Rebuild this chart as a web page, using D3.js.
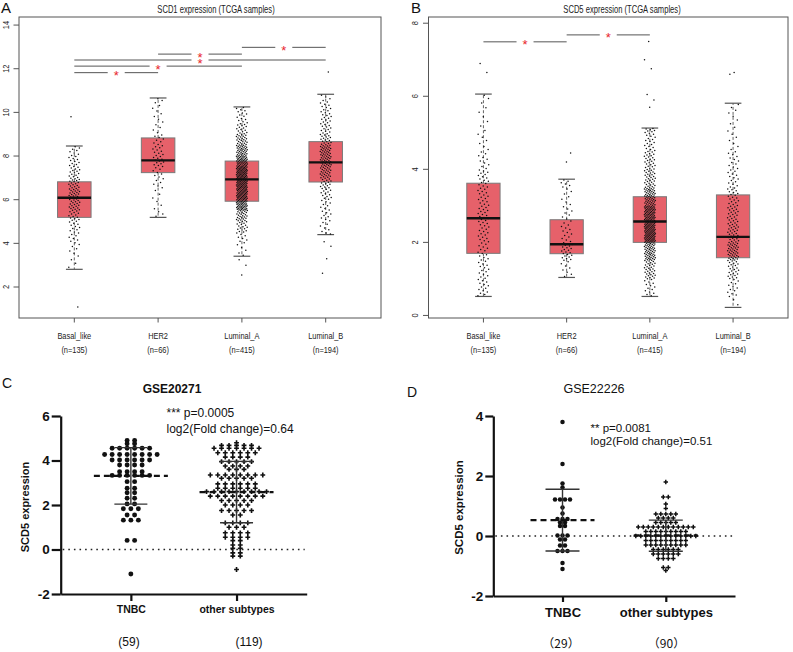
<!DOCTYPE html>
<html>
<head>
<meta charset="utf-8">
<script src="https://cdn.jsdelivr.net/npm/d3@7/dist/d3.min.js"></script>
<style>
  body { margin: 0; background: #fff; }
  svg { display: block; font-family: "Liberation Sans", Arial, sans-serif; }
</style>
</head>
<body>
<div id="chart"></div>
<script>
var width = 793;
var height = 652;

// ---- TCGA panels (A, B) ----
var subtypes = ["Basal_like", "HER2", "Luminal_A", "Luminal_B"];
var subtypeN = ["(n=135)", "(n=66)", "(n=415)", "(n=194)"];

// boxes: [low whisker, Q1, median, Q3, high whisker]
var scd1Box = [[2.81, 5.19, 6.09, 6.82, 8.46], [5.19, 7.24, 7.80, 8.83, 10.66],
               [3.41, 5.93, 6.93, 7.77, 10.25], [4.40, 6.81, 7.71, 8.66, 10.83]];
var scd1Outliers = [[9.8, 1.08], [], [3.25, 3.0, 2.55], [11.85, 4.07, 3.87, 3.3, 2.63]];
// samples inside the whiskers, counted in 0.5-wide bins
var scd1BinStart = [2.5, 5.0, 3.0, 4.0];
var scd1BinCounts = [
  [1, 3, 5, 8, 10, 14, 19, 22, 18, 14, 11, 8],
  [3, 3, 3, 6, 7, 12, 10, 8, 4, 4, 4, 2],
  [1, 4, 8, 16, 25, 48, 55, 58, 60, 47, 35, 25, 15, 10, 5],
  [2, 6, 8, 8, 12, 16, 24, 28, 28, 18, 13, 12, 10, 4]
];
// significance brackets: [group a, group b, height]
var scd1Sig = [[1, 2, 11.82], [1, 3, 12.12], [1, 4, 12.40], [2, 3, 12.67], [3, 4, 12.98]];

var scd5Box = [[0.52, 1.70, 2.66, 3.62, 6.06], [1.04, 1.69, 1.95, 2.62, 3.73],
               [0.52, 2.00, 2.57, 3.25, 5.13], [0.22, 1.58, 2.15, 3.30, 5.81]];
var scd5Outliers = [[6.9, 6.65], [4.45, 4.2], [7.5, 7.0, 6.75, 6.05, 5.9, 5.7], [6.65, 6.6]];
var scd5BinStart = [0.5, 1.0, 0.5, 0.0];
var scd5BinCounts = [
  [14, 14, 14, 16, 18, 16, 16, 10, 6, 4, 4, 1],
  [8, 22, 12, 9, 7, 6],
  [14, 32, 55, 90, 80, 55, 32, 26, 18, 7],
  [2, 13, 24, 40, 28, 24, 20, 14, 12, 6, 5, 4]
];
var scd5Sig = [[1, 2, 7.49], [2, 3, 7.68]];

// ---- GEO panels (C, D): rows of [value, number of samples] ----
var geoGroups = ["TNBC", "other subtypes"];

var gse20271Tnbc = [[4.9, 2], [4.75, 2], [4.55, 6], [4.27, 8], [4.02, 6], [3.8, 4], [3.5, 4],
  [3.33, 6], [3.05, 2], [2.75, 2], [2.55, 2], [2.3, 2], [2.05, 2], [1.83, 3], [1.55, 2],
  [1.32, 3], [0.41, 2], [-1.1, 1]];
var gse20271Other = [[4.8, 1], [4.68, 5], [4.55, 7], [4.35, 6], [4.15, 4], [3.95, 5], [3.75, 4],
  [3.6, 3], [3.35, 8], [3.2, 5], [2.95, 6], [2.75, 6], [2.6, 9], [2.4, 8], [2.2, 5], [2.0, 4],
  [1.75, 5], [1.55, 2], [1.2, 4], [1.0, 3], [0.75, 4], [0.55, 4], [0.4, 2], [0.2, 2],
  [0.05, 2], [-0.15, 2], [-0.3, 2], [-0.9, 1]];
var gse20271Mean = [3.31, 2.58];
var gse20271SdHigh = [4.58, 3.96];
var gse20271SdLow = [2.04, 1.20];
var gse20271Counts = ["(59)", "(119)"];

var gse22226Tnbc = [[3.8, 1], [2.4, 1], [1.75, 1], [1.62, 1], [1.22, 4], [0.95, 1], [0.75, 1],
  [0.57, 3], [0.45, 2], [0.33, 2], [0.02, 3], [-0.12, 2], [-0.32, 2], [-0.5, 3], [-0.9, 1], [-1.1, 1]];
var gse22226Other = [[1.8, 1], [1.3, 2], [1.07, 1], [0.92, 1], [0.73, 5], [0.6, 4], [0.45, 5],
  [0.3, 12], [0.15, 9], [0.0, 13], [-0.15, 9], [-0.3, 9], [-0.45, 6], [-0.6, 6], [-0.75, 4],
  [-1.05, 2], [-1.15, 1]];
var gse22226Mean = [0.53, 0.02];
var gse22226SdHigh = [1.56, 0.53];
var gse22226SdLow = [-0.50, -0.51];
var gse22226Counts = ["（29）", "（90）"];

function createSVG() {
  return d3.select("#chart").append("svg")
    .attr("width", width)
    .attr("height", height);
}

// condensed text, the TCGA plots use a narrow face
function narrowText(g, x, y, str, size, sx, rotate) {
  var t = g.append("g")
    .attr("transform", "translate(" + x + "," + y + ")" + (rotate ? " rotate(-90)" : "") + " scale(" + sx + ",1)");
  return t.append("text")
    .attr("text-anchor", "middle")
    .style("font-size", size + "px")
    .attr("fill", "#222")
    .text(str);
}

function frac(v) { return v - Math.floor(v); }

function binValues(start, counts, lo, hi) {
  var vals = [];
  counts.forEach(function(c, j) {
    var a = Math.max(start + j * 0.5, lo);
    var b = Math.min(start + (j + 1) * 0.5, hi);
    for (var k = 0; k < c; k++) vals.push(a + (k + 0.5) / c * (b - a));
  });
  return vals;
}

function drawBoxPanel(svg, p) {
  var g = svg.append("g");
  var x = d3.scaleLinear().domain([0.34, 4.66]).range([p.left, p.right]);
  var y = d3.scaleLinear().domain(p.yDomain).range([p.bottom, p.top]);

  g.append("rect")
    .attr("x", p.left).attr("y", p.top)
    .attr("width", p.right - p.left).attr("height", p.bottom - p.top)
    .attr("fill", "none").attr("stroke", "#555").attr("stroke-width", 1);

  // y ticks
  p.yTicks.forEach(function(v) {
    g.append("line")
      .attr("x1", p.left - 5.5).attr("x2", p.left)
      .attr("y1", y(v)).attr("y2", y(v))
      .attr("stroke", "#555");
    narrowText(g, p.left - 10.5, y(v), v, 9.3, 0.8, true);
  });

  // x ticks and labels
  subtypes.forEach(function(s, i) {
    g.append("line")
      .attr("x1", x(i + 1)).attr("x2", x(i + 1))
      .attr("y1", p.bottom).attr("y2", p.bottom + 4.5)
      .attr("stroke", "#555");
    narrowText(g, x(i + 1), p.bottom + 21, s, 9.3, 0.8, false);
    narrowText(g, x(i + 1), p.bottom + 35, subtypeN[i], 9.3, 0.8, false);
  });

  // boxes
  p.boxes.forEach(function(b, i) {
    var cx = x(i + 1);
    var hw = x(1.2) - x(1);
    var cw = x(1.1) - x(1);
    g.append("line").attr("x1", cx).attr("x2", cx).attr("y1", y(b[3])).attr("y2", y(b[4]))
      .attr("stroke", "#666").attr("stroke-dasharray", "3,2");
    g.append("line").attr("x1", cx).attr("x2", cx).attr("y1", y(b[1])).attr("y2", y(b[0]))
      .attr("stroke", "#666").attr("stroke-dasharray", "3,2");
    [b[0], b[4]].forEach(function(v) {
      g.append("line").attr("x1", cx - cw).attr("x2", cx + cw).attr("y1", y(v)).attr("y2", y(v))
        .attr("stroke", "#555").attr("stroke-width", 1.2);
    });
    g.append("rect")
      .attr("x", cx - hw).attr("y", y(b[3]))
      .attr("width", 2 * hw).attr("height", y(b[1]) - y(b[3]))
      .attr("fill", "#e6616a").attr("stroke", "#7a7a7a").attr("stroke-width", 1);
    g.append("line").attr("x1", cx - hw).attr("x2", cx + hw).attr("y1", y(b[2])).attr("y2", y(b[2]))
      .attr("stroke", "#111").attr("stroke-width", 2.4);
  });

  // jittered samples
  p.boxes.forEach(function(b, i) {
    var vals = binValues(p.binStart[i], p.binCounts[i], b[0], b[4]).concat(p.outliers[i]);
    g.append("g").selectAll("circle")
      .data(vals)
      .enter()
      .append("circle")
      .attr("cx", function(d, k) { return x(i + 1) + (frac(k * 0.618034 + i * 0.31) - 0.5) * 11; })
      .attr("cy", function(d) { return y(d); })
      .attr("r", 0.75)
      .attr("fill", "#111");
  });

  // significance brackets
  p.sig.forEach(function(s) {
    var mid = (x(s[0]) + x(s[1])) / 2;
    g.append("line").attr("x1", x(s[0])).attr("x2", mid - 8.5).attr("y1", y(s[2])).attr("y2", y(s[2]))
      .attr("stroke", "#555");
    g.append("line").attr("x1", mid + 8.5).attr("x2", x(s[1])).attr("y1", y(s[2])).attr("y2", y(s[2]))
      .attr("stroke", "#555");
    g.append("text").attr("x", mid).attr("y", y(s[2]) + 7.5)
      .attr("text-anchor", "middle").style("font-size", "13px").attr("fill", "#e8242b")
      .text("*");
  });

  narrowText(g, p.titleX, 12.5, p.title, 10, 0.76, false);
  g.append("text").attr("x", p.letterX).attr("y", 13)
    .style("font-size", "15px").attr("fill", "#111").text(p.letter);
}

function dotRows(levels, cx, step) {
  var pts = [];
  levels.forEach(function(l) {
    for (var k = 0; k < l[1]; k++) pts.push({ v: l[0], x: cx + (k - (l[1] - 1) / 2) * step });
  });
  return pts;
}

function drawDotPanel(svg, p) {
  var g = svg.append("g");
  var y = d3.scaleLinear().domain(p.yDomain).range([p.bottom, p.top]);
  var x = d3.scalePoint().domain(geoGroups).range([p.left, p.right]).padding(p.pad);

  // zero reference
  g.append("line")
    .attr("x1", p.left + 2).attr("x2", p.right - 2)
    .attr("y1", y(0)).attr("y2", y(0))
    .attr("stroke", "#222").attr("stroke-width", 1.6).attr("stroke-dasharray", "1.6,4");

  var yAxis = g.append("g")
    .attr("transform", "translate(" + p.left + ",0)")
    .call(d3.axisLeft(y).tickValues(p.yTicks).tickSize(p.tick).tickSizeOuter(0).tickPadding(2)
      .tickFormat(d3.format("d")));
  var xAxis = g.append("g")
    .attr("transform", "translate(0," + p.bottom + ")")
    .call(d3.axisBottom(x).tickSize(p.tick - 2).tickSizeOuter(0).tickPadding(p.xPad));
  [yAxis, xAxis].forEach(function(a) {
    a.select(".domain").attr("stroke", "#111").attr("stroke-width", 2.2);
    a.selectAll(".tick line").attr("stroke", "#111").attr("stroke-width", 2.2);
    a.selectAll("text").attr("fill", "#111").style("font-family", "'Liberation Sans', Arial, sans-serif")
      .style("font-weight", "bold");
  });
  yAxis.selectAll("text").style("font-size", p.yTickFont + "px").text(function(d) { return d < 0 ? "-" + (-d) : d; });
  xAxis.selectAll("text").style("font-size", p.xFont + "px");

  // points
  var shapes = [d3.symbol().type(d3.symbolCircle).size(p.circleSize),
                d3.symbol().type(d3.symbolCross).size(p.crossSize)];
  [p.tnbc, p.other].forEach(function(levels, i) {
    g.append("g").selectAll("path")
      .data(dotRows(levels, x(geoGroups[i]), p.step))
      .enter()
      .append("path")
      .attr("d", shapes[i])
      .attr("transform", function(d) { return "translate(" + d.x + "," + y(d.v) + ")"; })
      .attr("fill", "#111");
  });

  // mean (dashed) and SD bars
  geoGroups.forEach(function(grp, i) {
    var cx = x(grp);
    g.append("line").attr("x1", cx).attr("x2", cx).attr("y1", y(p.sdLow[i])).attr("y2", y(p.sdHigh[i]))
      .attr("stroke", "#333").attr("stroke-width", 1.4);
    [p.sdLow[i], p.sdHigh[i]].forEach(function(v) {
      g.append("line").attr("x1", cx - p.cap).attr("x2", cx + p.cap).attr("y1", y(v)).attr("y2", y(v))
        .attr("stroke", "#333").attr("stroke-width", 1.4);
    });
    g.append("line").attr("x1", cx - p.meanHalf).attr("x2", cx + p.meanHalf)
      .attr("y1", y(p.mean[i])).attr("y2", y(p.mean[i]))
      .attr("stroke", "#111").attr("stroke-width", 2.2).attr("stroke-dasharray", "6,4");
    g.append("text").attr("x", p.countX[i]).attr("y", p.countY)
      .attr("text-anchor", "middle").style("font-size", "12px").attr("fill", "#111")
      .style("font-family", p.countFont)
      .text(p.counts[i]);
  });

  g.append("text")
    .attr("transform", "translate(" + p.yLabelX + "," + p.yLabelY + ") rotate(-90)")
    .attr("text-anchor", "middle").style("font-size", p.yLabelFont + "px").style("font-weight", "bold")
    .attr("fill", "#111").text("SCD5 expression");

  g.append("text").attr("x", p.titleX).attr("y", 393).attr("text-anchor", "middle")
    .style("font-size", p.titleFont + "px").style("font-weight", p.titleWeight).attr("fill", "#111")
    .text(p.title);
  g.append("text").attr("x", p.letterX).attr("y", p.letterY)
    .style("font-size", "14px").attr("fill", "#111").text(p.letter);

  p.note.forEach(function(line, k) {
    g.append("text").attr("x", p.noteX).attr("y", p.noteY[k])
      .style("font-size", p.noteFont + "px").attr("fill", "#111").text(line);
  });
}

function main() {
  var svg = createSVG();

  drawBoxPanel(svg, {
    left: 19, right: 381, top: 17, bottom: 318,
    yDomain: [0.58, 14.37], yTicks: [2, 4, 6, 8, 10, 12, 14],
    boxes: scd1Box, outliers: scd1Outliers, binStart: scd1BinStart, binCounts: scd1BinCounts,
    sig: scd1Sig, title: "SCD1 expression (TCGA samples)", titleX: 216, letter: "A", letterX: 1
  });
  drawBoxPanel(svg, {
    left: 428.5, right: 788, top: 17, bottom: 318,
    yDomain: [-0.07, 8.17], yTicks: [0, 2, 4, 6, 8],
    boxes: scd5Box, outliers: scd5Outliers, binStart: scd5BinStart, binCounts: scd5BinCounts,
    sig: scd5Sig, title: "SCD5 expression (TCGA samples)", titleX: 622, letter: "B", letterX: 411
  });

  drawDotPanel(svg, {
    left: 60.7, right: 306.7, top: 416, bottom: 594, pad: 0.664,
    yDomain: [-2, 6], yTicks: [-2, 0, 2, 4, 6], tick: 9, xPad: 5, yTickFont: 13.5, xFont: 10.5,
    tnbc: gse20271Tnbc, other: gse20271Other, step: 7.5, circleSize: 19, crossSize: 13,
    mean: gse20271Mean, sdHigh: gse20271SdHigh, sdLow: gse20271SdLow, cap: 16.5, meanHalf: 37,
    counts: gse20271Counts, countX: [129, 249], countY: 645.5, countFont: "'Liberation Sans', Arial, sans-serif",
    yLabelX: 29, yLabelY: 507, yLabelFont: 11,
    title: "GSE20271", titleX: 172, titleFont: 12, titleWeight: "bold", letter: "C", letterX: 2, letterY: 388,
    note: ["*** p=0.0005", "log2(Fold change)=0.64"], noteX: 166.5, noteY: [417, 432.5], noteFont: 12
  });
  drawDotPanel(svg, {
    left: 493.3, right: 735, top: 416, bottom: 596, pad: 0.67,
    yDomain: [-2, 4], yTicks: [-2, 0, 2, 4], tick: 8, xPad: 6, yTickFont: 13.5, xFont: 13,
    tnbc: gse22226Tnbc, other: gse22226Other, step: 5, circleSize: 16, crossSize: 11,
    mean: gse22226Mean, sdHigh: gse22226SdHigh, sdLow: gse22226SdLow, cap: 17, meanHalf: 32,
    counts: gse22226Counts, countX: [561, 666.5], countY: 647.5, countFont: "'Noto Sans CJK SC', sans-serif",
    yLabelX: 463, yLabelY: 507.5, yLabelFont: 11.5,
    title: "GSE22226", titleX: 594, titleFont: 12.5, titleWeight: "normal", letter: "D", letterX: 407, letterY: 396.5,
    note: ["** p=0.0081", "log2(Fold change)=0.51"], noteX: 590.5, noteY: [431.5, 444.5], noteFont: 11.5
  });
}

window.onload = function() {
  main();
};
</script>
</body>
</html>
